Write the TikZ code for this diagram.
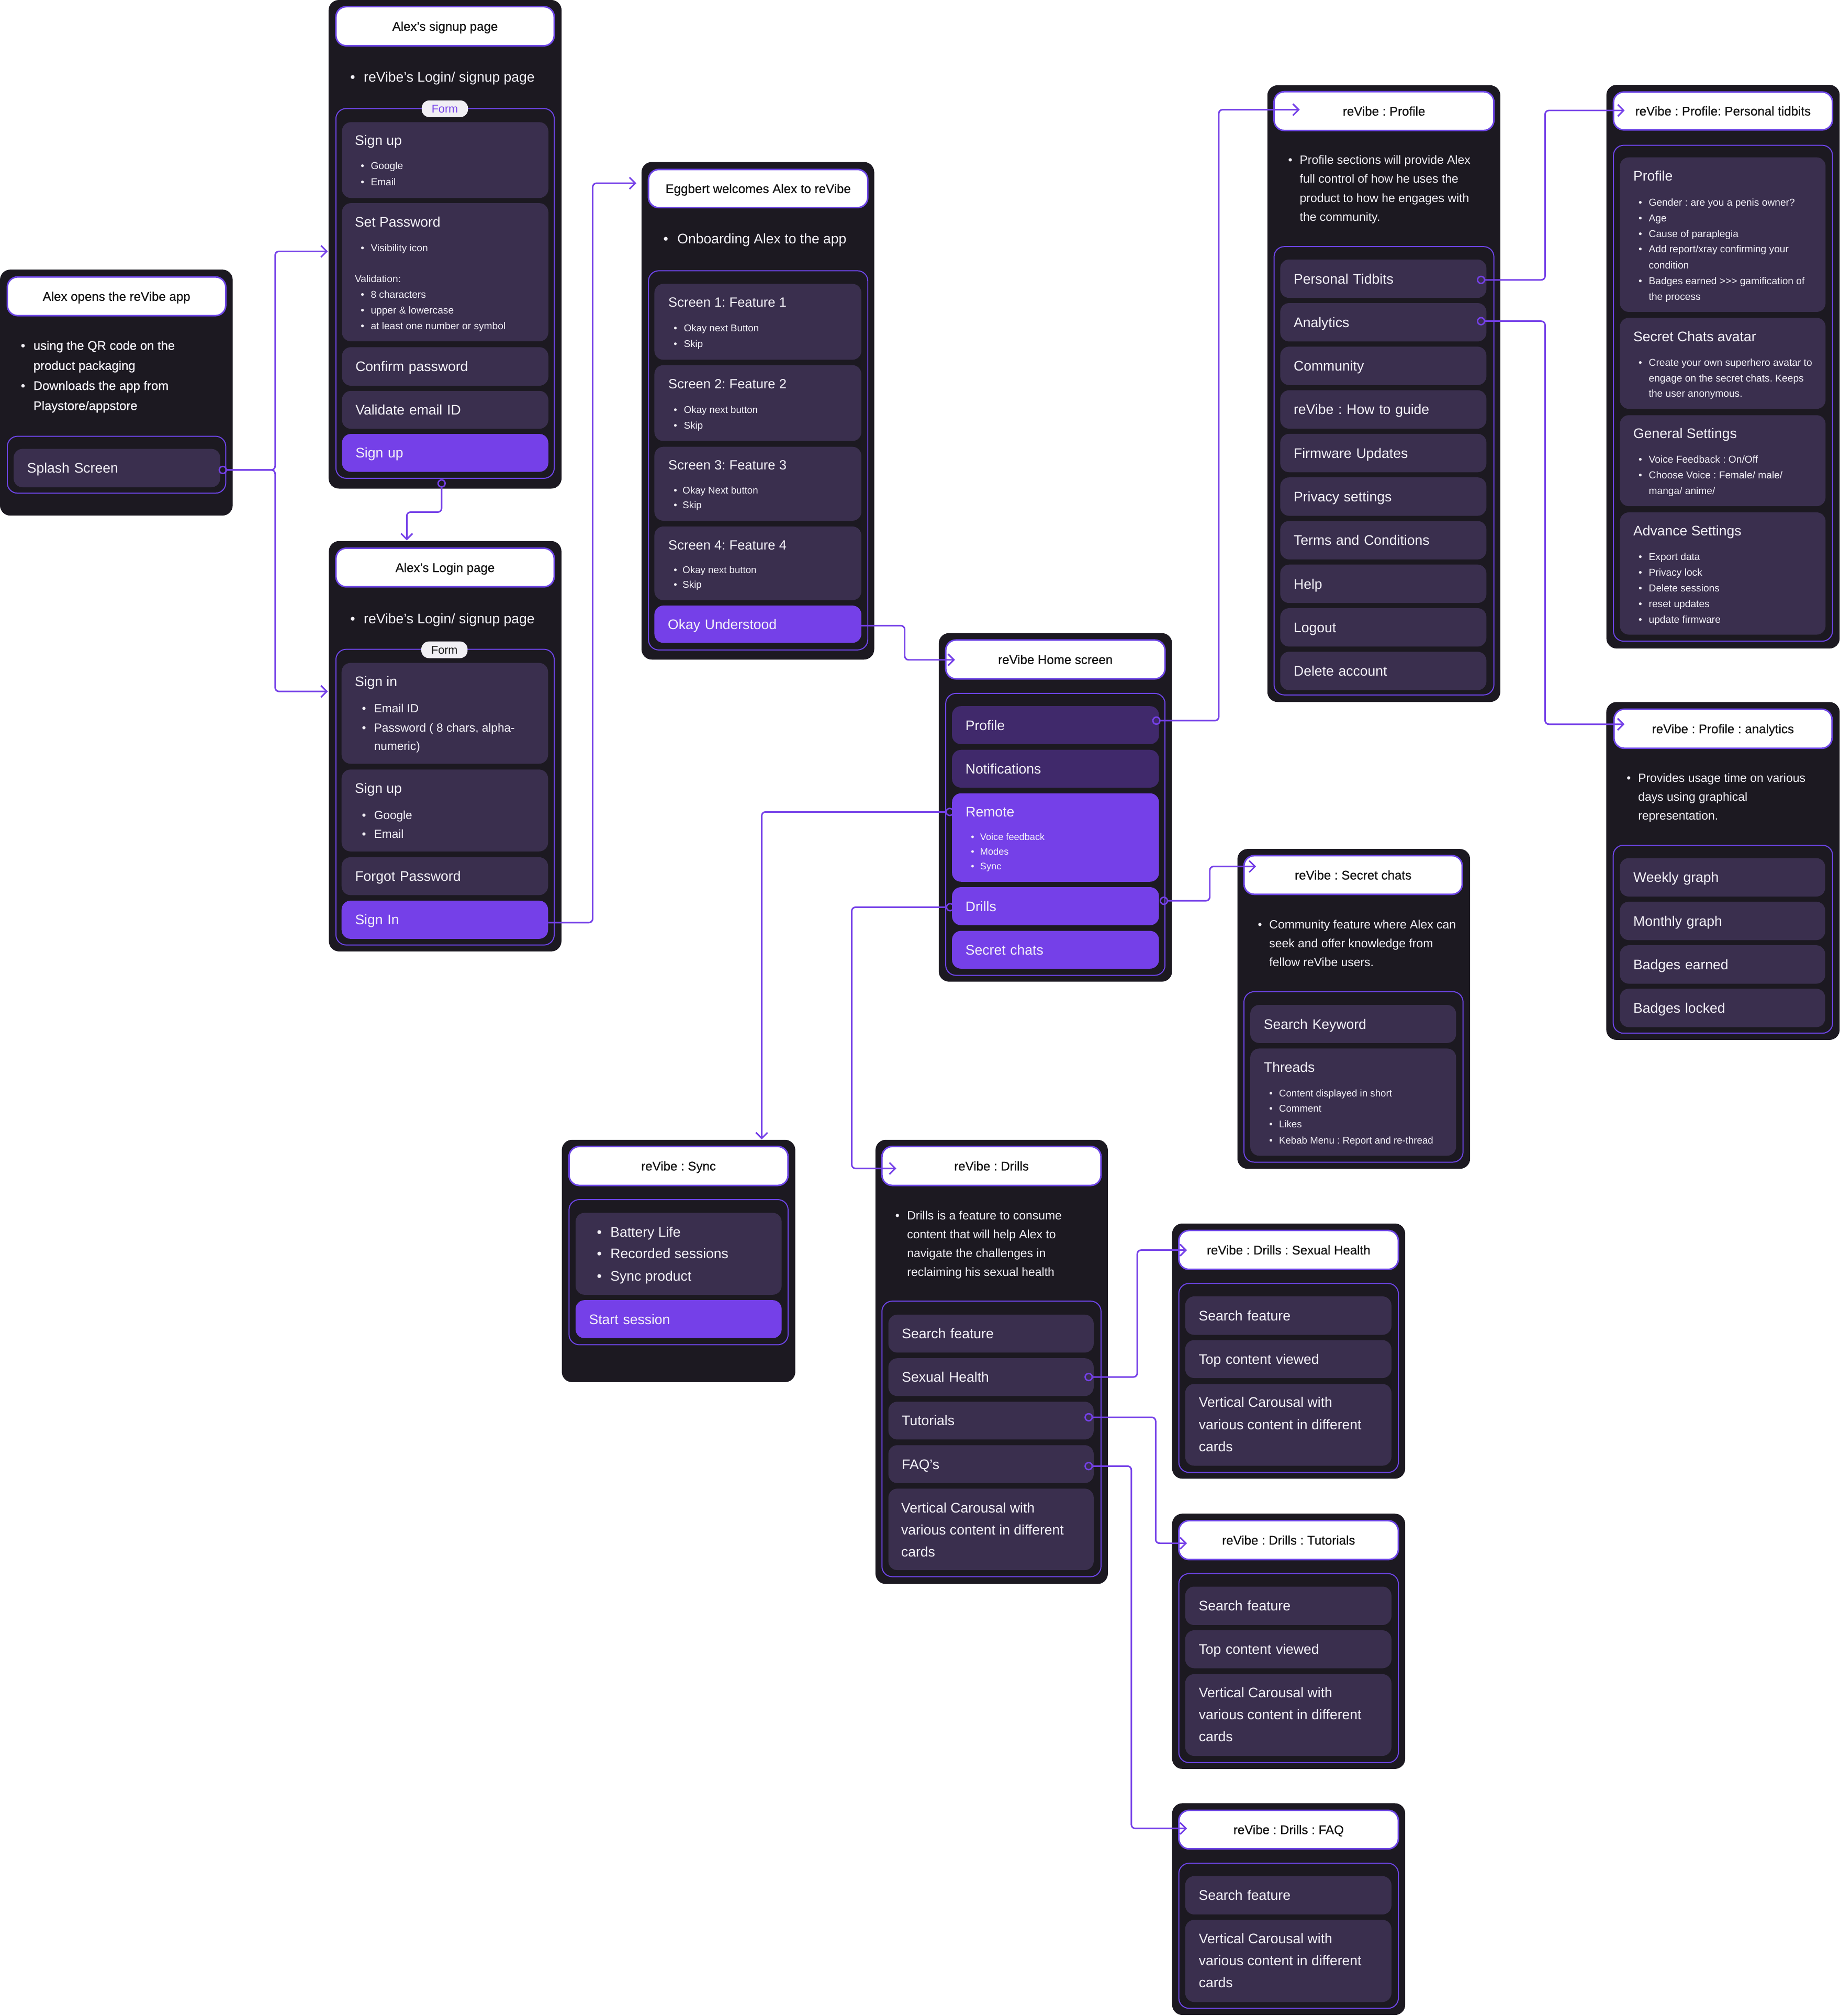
\documentclass[tikz,border=0pt]{standalone}
\usepackage{fontspec}
\setmainfont{Liberation Sans}
\newfontfamily\medfont{Liberation Sans}[FakeBold=0.6]
\usetikzlibrary{arrows.meta}
\definecolor{outerc}{HTML}{1C1921}
\definecolor{cardc}{HTML}{3A2F4E}
\definecolor{midp}{HTML}{40296B}
\definecolor{brightp}{HTML}{7540E8}
\definecolor{framec}{HTML}{6D45E6}
\definecolor{linec}{HTML}{7540E8}
\definecolor{txtw}{HTML}{F4F2F8}
\definecolor{ttlc}{HTML}{141414}
\definecolor{pillc}{HTML}{F1EFF4}
\frenchspacing
\newcommand\rbox[6]{%
  \pgfmathsetmacro\myw{#5-#3}\pgfmathsetmacro\myh{#6-#4}%
  \node[#1,anchor=north west,minimum width=\myw pt,minimum height=\myh pt,inner sep=0pt,outer sep=0pt] (#2) at (#3,#4) {};}
\newcommand\rcard[7]{%
  \pgfmathsetmacro\myw{#5-#3}\pgfmathsetmacro\myh{#6-#4}\pgfmathsetmacro\mytw{#5-#3-21}%
  \node[#1,s108,anchor=north west,minimum width=\myw pt,minimum height=\myh pt,text width=\mytw pt,inner xsep=10.5pt,inner ysep=0pt,outer sep=0pt,align=left,text=txtw,text depth=0pt] (#2) at (#3,#4) {\frenchspacing #7};}
\newcommand\rtitle[6]{%
  \pgfmathsetmacro\myw{#4-#2}\pgfmathsetmacro\myh{#5-#3}%
  \node[titlebox,anchor=north west,minimum width=\myw pt,minimum height=\myh pt] (#1) at (#2,#3) {\frenchspacing #6};}
\newcommand\tl[4]{\node[txtl,#1] at (#2,#3) {\frenchspacing #4};}
\newcommand\bl[5]{\node[txtl,#1] at (#2,#4) {•};\node[txtl,#1] at (#3,#4) {\frenchspacing #5};}
\begin{document}
\begin{tikzpicture}[x=1pt,y=-1pt,
  outerbox/.style={fill=outerc, rounded corners=8pt, draw=none},
  framebox/.style={draw=framec, line width=0.8pt, rounded corners=8pt},
  cardbox/.style={fill=cardc, rounded corners=7pt},
  midcard/.style={fill=midp, rounded corners=7pt},
  brightcard/.style={fill=brightp, rounded corners=7pt},
  titlebox/.style={fill=white, draw=framec, line width=1.2pt, rounded corners=8pt, text=ttlc, font=\medfont\fontsize{9.8}{12}\selectfont, text height=7.05pt, text depth=0pt, inner sep=0pt, outer sep=0pt},
  txtl/.style={anchor=west, inner sep=0pt, outer sep=0pt, text=txtw, text depth=0pt},
  s108/.style={font=\fontsize{10.8}{13}\selectfont, text height=7.8pt},
  s104/.style={font=\fontsize{10.4}{12.5}\selectfont, text height=7.5pt},
  s97m/.style={font=\medfont\fontsize{9.7}{12}\selectfont, text height=7pt},
  s93/.style={font=\fontsize{9.33}{11}\selectfont, text height=6.7pt},
  s92/.style={font=\fontsize{9.2}{11}\selectfont, text height=6.6pt},
  s78/.style={font=\fontsize{7.8}{9.5}\selectfont, text height=5.6pt},
  s76/.style={font=\fontsize{7.6}{9.2}\selectfont, text height=5.5pt},
  s74/.style={font=\fontsize{7.4}{9}\selectfont, text height=5.3pt},
  pill/.style={fill=pillc, rounded corners=6pt, minimum width=36pt, minimum height=13pt, inner sep=0pt, font=\fontsize{8.8}{10}\selectfont, text height=6.3pt, text depth=0pt},
  port/.style={circle, draw=linec, line width=1.1pt, minimum size=5.5pt, inner sep=0pt},
  conn/.style={draw=linec, line width=1.2pt, rounded corners=3pt, -{Straight Barb[length=4.5pt,width=9pt]}}
]
\useasboundingbox (0,0) rectangle (1431,1568);
\fill[white] (0,0) rectangle (1431,1568);

% ---------- A: Alex opens the app
\rbox{outerbox}{A}{0}{209.7}{181}{401}
\rtitle{At}{5.7}{215.4}{175.6}{245.5}{Alex opens the reVibe app}
\bl{s97m}{16.2}{26}{268.6}{using the QR code on the}
\tl{s97m}{26}{284.2}{product packaging}
\bl{s97m}{16.2}{26}{299.8}{Downloads the app from}
\tl{s97m}{26}{315.4}{Playstore/appstore}
\rbox{framebox}{Af}{5.7}{339.3}{175.6}{383.6}
\rcard{cardbox}{splash}{10.6}{349.1}{171.3}{379}{Splash Screen}

% ---------- B: signup page
\rbox{outerbox}{B}{255.6}{0}{436.8}{380}
\rtitle{Bt}{261.3}{5.2}{431.1}{35.6}{Alex’s signup page}
\bl{s108}{272.5}{283}{59.7}{reVibe’s Login/ signup page}
\rbox{framebox}{Bf}{261.3}{84.4}{431.1}{372}
\node[pill,text=brightp] (Bp) at (346,84.6) {Form};
\rbox{cardbox}{Bc1}{266}{95}{426.5}{154}
\tl{s108}{276}{109}{Sign up}
\bl{s78}{280.6}{288.4}{129}{Google}
\bl{s78}{280.6}{288.4}{141.5}{Email}
\rbox{cardbox}{Bc2}{266}{158}{426.5}{265.5}
\tl{s108}{276}{172.6}{Set Password}
\bl{s78}{280.6}{288.4}{192.6}{Visibility icon}
\tl{s78}{276}{217}{Validation:}
\bl{s78}{280.6}{288.4}{229}{8 characters}
\bl{s78}{280.6}{288.4}{241.4}{upper \& lowercase}
\bl{s78}{280.6}{288.4}{253.6}{at least one number or symbol}
\rcard{cardbox}{Bc3}{266}{270}{426.5}{300}{Confirm password}
\rcard{cardbox}{Bc4}{266}{304}{426.5}{333.5}{Validate email ID}
\rcard{brightcard}{Bc5}{266}{337.5}{426.5}{367}{Sign up}

% ---------- C: login page
\rbox{outerbox}{C}{255.8}{420.8}{436.7}{740}
\rtitle{Ct}{261.3}{426.4}{431.1}{456.4}{Alex’s Login page}
\bl{s108}{272.5}{283}{481}{reVibe’s Login/ signup page}
\rbox{framebox}{Cf}{261.3}{505}{431.1}{735}
\node[pill,text=ttlc] (Cp) at (345.7,505.4) {Form};
\rbox{cardbox}{Cc1}{265.7}{515.6}{426.3}{594}
\tl{s108}{276}{530}{Sign in}
\bl{s92}{281.5}{291}{551}{Email ID}
\bl{s92}{281.5}{291}{565.8}{Password ( 8 chars, alpha-}
\tl{s92}{291}{580.4}{numeric)}
\rbox{cardbox}{Cc2}{265.7}{598.5}{426.3}{662.2}
\tl{s108}{276}{613}{Sign up}
\bl{s92}{281.5}{291}{634}{Google}
\bl{s92}{281.5}{291}{648.8}{Email}
\rcard{cardbox}{Cc3}{265.7}{666.7}{426.3}{696.2}{Forgot Password}
\rcard{brightcard}{Cc4}{265.7}{700.5}{426.3}{730.2}{Sign In}

% ---------- D: onboarding
\rbox{outerbox}{D}{499}{126}{680}{513}
\rtitle{Dt}{504.4}{131.8}{675}{161.5}{Eggbert welcomes Alex to reVibe}
\bl{s108}{516}{526.9}{185.6}{Onboarding Alex to the app}
\rbox{framebox}{Df}{504.4}{210.6}{675}{505.5}
\rbox{cardbox}{Dc1}{509}{220.8}{670}{279.8}
\tl{s104}{519.9}{235}{Screen 1: Feature 1}
\bl{s76}{524}{532}{255.2}{Okay next Button}
\bl{s76}{524}{532}{267.4}{Skip}
\rbox{cardbox}{Dc2}{509}{284}{670}{343}
\tl{s104}{519.9}{298.3}{Screen 2: Feature 2}
\bl{s76}{524}{532}{318.5}{Okay next button}
\bl{s76}{524}{532}{330.7}{Skip}
\rbox{cardbox}{Dc3}{509}{347.5}{670}{405}
\tl{s104}{519.9}{361.7}{Screen 3: Feature 3}
\bl{s76}{524}{531}{381.3}{Okay Next button}
\bl{s76}{524}{531}{392.8}{Skip}
\rbox{cardbox}{Dc4}{509}{409.5}{670}{466.8}
\tl{s104}{519.9}{423.7}{Screen 4: Feature 4}
\bl{s76}{524}{531}{443}{Okay next button}
\bl{s76}{524}{531}{454.6}{Skip}
\rcard{brightcard}{Dc5}{509}{471}{670}{500}{Okay Understood}

% ---------- E: home
\rbox{outerbox}{E}{730.2}{492.4}{911.7}{763.5}
\rtitle{Et}{735.6}{497.8}{906.2}{528}{reVibe Home screen}
\rbox{framebox}{Ef}{735.6}{539.3}{906.2}{758.6}
\rcard{midcard}{Ec1}{740.5}{549.2}{901.5}{578.8}{Profile}
\rcard{midcard}{Ec2}{740.5}{583.2}{901.5}{612.6}{Notifications}
\rbox{brightcard}{Ec3}{740.5}{617}{901.5}{685.8}
\tl{s108}{751.2}{631.3}{Remote}
\bl{s74}{755.2}{762.4}{650.7}{Voice feedback}
\bl{s74}{755.2}{762.4}{662.3}{Modes}
\bl{s74}{755.2}{762.4}{673.6}{Sync}
\rcard{brightcard}{Ec4}{740.5}{690}{901.5}{719.6}{Drills}
\rcard{brightcard}{Ec5}{740.5}{724}{901.5}{753.4}{Secret chats}

% ---------- F: profile
\rbox{outerbox}{F}{985.8}{66.3}{1167}{546}
\rtitle{Ft}{991}{71.3}{1162}{101.5}{reVibe : Profile}
\bl{s93}{1002}{1011}{124.3}{Profile sections will provide Alex}
\tl{s93}{1011}{138.9}{full control of how he uses the}
\tl{s93}{1011}{153.8}{product to how he engages with}
\tl{s93}{1011}{168.5}{the community.}
\rbox{framebox}{Ff}{991}{191.8}{1162}{540.5}
\foreach \i/\t in {0/Personal Tidbits,1/Analytics,2/Community,3/reVibe : How to guide,4/Firmware Updates,5/Privacy settings,6/Terms and Conditions,7/Help,8/Logout,9/Delete account}{
  \pgfmathsetmacro\ytop{201.8+33.9*\i}\pgfmathsetmacro\ybot{\ytop+29.9}
  \rcard{cardbox}{Fc\i}{995.8}{\ytop}{1156.2}{\ybot}{\t}
}

% ---------- G: personal tidbits
\rbox{outerbox}{G}{1249.5}{66}{1431}{504.4}
\rtitle{Gt}{1255}{71.6}{1425.4}{101}{reVibe : Profile: Personal tidbits}
\rbox{framebox}{Gf}{1255}{113}{1425.4}{498.7}
\rbox{cardbox}{Gc1}{1260}{122.4}{1420}{242.6}
\tl{s108}{1270.5}{136.8}{Profile}
\bl{s78}{1274.5}{1282.5}{157.3}{Gender : are you a penis owner?}
\bl{s78}{1274.5}{1282.5}{169.5}{Age}
\bl{s78}{1274.5}{1282.5}{181.8}{Cause of paraplegia}
\bl{s78}{1274.5}{1282.5}{193.8}{Add report/xray confirming your}
\tl{s78}{1282.5}{206.1}{condition}
\bl{s78}{1274.5}{1282.5}{218.4}{Badges earned {>}{>}{>} gamification of}
\tl{s78}{1282.5}{230.6}{the process}
\rbox{cardbox}{Gc2}{1260}{247.2}{1420}{318}
\tl{s108}{1270.5}{261.7}{Secret Chats avatar}
\bl{s78}{1274.5}{1282.5}{281.8}{Create your own superhero avatar to}
\tl{s78}{1282.5}{294}{engage on the secret chats. Keeps}
\tl{s78}{1282.5}{306}{the user anonymous.}
\rbox{cardbox}{Gc3}{1260}{322.9}{1420}{393.7}
\tl{s108}{1270.5}{337.2}{General Settings}
\bl{s78}{1274.5}{1282.5}{357.4}{Voice Feedback : On/Off}
\bl{s78}{1274.5}{1282.5}{369.4}{Choose Voice : Female/ male/}
\tl{s78}{1282.5}{381.7}{manga/ anime/}
\rbox{cardbox}{Gc4}{1260}{398.5}{1420}{493.6}
\tl{s108}{1270.5}{412.8}{Advance Settings}
\bl{s78}{1274.5}{1282.5}{432.8}{Export data}
\bl{s78}{1274.5}{1282.5}{445}{Privacy lock}
\bl{s78}{1274.5}{1282.5}{457.3}{Delete sessions}
\bl{s78}{1274.5}{1282.5}{469.6}{reset updates}
\bl{s78}{1274.5}{1282.5}{481.6}{update firmware}

% ---------- H: analytics
\rbox{outerbox}{H}{1249.4}{546}{1431}{808.8}
\rtitle{Ht}{1255.4}{551.6}{1425}{582}{reVibe : Profile : analytics}
\bl{s93}{1265.3}{1274.2}{605}{Provides usage time on various}
\tl{s93}{1274.2}{619.7}{days using graphical}
\tl{s93}{1274.2}{634.2}{representation.}
\rbox{framebox}{Hf}{1254.8}{657.4}{1425.5}{803.6}
\rcard{cardbox}{Hc1}{1260}{667.4}{1419.7}{697.3}{Weekly graph}
\rcard{cardbox}{Hc2}{1260}{701.3}{1419.7}{731.2}{Monthly graph}
\rcard{cardbox}{Hc3}{1260}{735.2}{1419.7}{765.1}{Badges earned}
\rcard{cardbox}{Hc4}{1260}{769}{1419.7}{798.9}{Badges locked}

% ---------- I: secret chats
\rbox{outerbox}{I}{962.5}{660.3}{1143.5}{909.1}
\rtitle{It}{967.6}{665.5}{1137.4}{695.6}{reVibe : Secret chats}
\bl{s93}{978.4}{987.3}{719}{Community feature where Alex can}
\tl{s93}{987.3}{733.6}{seek and offer knowledge from}
\tl{s93}{987.3}{748.2}{fellow reVibe users.}
\rbox{framebox}{If}{967.6}{771.3}{1138}{903.9}
\rcard{cardbox}{Ic1}{972.5}{781.6}{1132.6}{811.2}{Search Keyword}
\rbox{cardbox}{Ic2}{972.5}{815.5}{1132.6}{898.9}
\tl{s108}{983.1}{829.9}{Threads}
\bl{s76}{987.3}{994.9}{850.2}{Content displayed in short}
\bl{s76}{987.3}{994.9}{862.1}{Comment}
\bl{s76}{987.3}{994.9}{874.3}{Likes}
\bl{s76}{987.3}{994.9}{886.7}{Kebab Menu : Report and re-thread}

% ---------- J: sync
\rbox{outerbox}{J}{437}{886.5}{618.6}{1075}
\rtitle{Jt}{442.6}{891.7}{613}{922}{reVibe : Sync}
\rbox{framebox}{Jf}{442.6}{933}{613}{1045.9}
\rbox{cardbox}{Jc1}{447.7}{943.3}{608}{1007}
\bl{s108}{464.3}{474.8}{958}{Battery Life}
\bl{s108}{464.3}{474.8}{975}{Recorded sessions}
\bl{s108}{464.3}{474.8}{992.2}{Sync product}
\rcard{brightcard}{Jc2}{447.7}{1011.2}{608}{1040.8}{Start session}

% ---------- K: drills
\rbox{outerbox}{K}{681}{886.5}{861.7}{1232}
\rtitle{Kt}{686}{891.7}{856.4}{922}{reVibe : Drills}
\bl{s93}{696.4}{705.6}{945.3}{Drills is a feature to consume}
\tl{s93}{705.6}{960}{content that will help Alex to}
\tl{s93}{705.6}{974.6}{navigate the challenges in}
\tl{s93}{705.6}{989.2}{reclaiming his sexual health}
\rbox{framebox}{Kf}{686}{1012}{856.4}{1226.3}
\rcard{cardbox}{Kc1}{691}{1022.5}{850.7}{1052}{Search feature}
\rcard{cardbox}{Kc2}{691}{1056.4}{850.7}{1085.8}{Sexual Health}
\rcard{cardbox}{Kc3}{691}{1090.2}{850.7}{1119.6}{Tutorials}
\rcard{cardbox}{Kc4}{691}{1124}{850.7}{1153.5}{FAQ’s}
\rbox{cardbox}{Kc5}{691}{1157.8}{850.7}{1221.2}
\tl{s108}{701}{1172.6}{Vertical Carousal with}
\tl{s108}{701}{1189.7}{various content in different}
\tl{s108}{701}{1206.9}{cards}

% ---------- L: drills sexual health
\rbox{outerbox}{L}{911.7}{951.6}{1093}{1150.1}
\rtitle{Lt}{916.9}{957}{1087.7}{987.3}{reVibe : Drills : Sexual Health}
\rbox{framebox}{Lf}{916.9}{998.2}{1087.7}{1145.2}
\rcard{cardbox}{Lc1}{921.9}{1008.3}{1082.3}{1038.2}{Search feature}
\rcard{cardbox}{Lc2}{921.9}{1042.3}{1082.3}{1071.8}{Top content viewed}
\rbox{cardbox}{Lc3}{921.9}{1076.4}{1082.3}{1140}
\tl{s108}{932.5}{1090.6}{Vertical Carousal with}
\tl{s108}{932.5}{1107.8}{various content in different}
\tl{s108}{932.5}{1125}{cards}

% ---------- M: drills tutorials
\rbox{outerbox}{M}{911.7}{1177.3}{1093}{1375.8}
\rtitle{Mt}{916.9}{1182.7}{1087.7}{1213}{reVibe : Drills : Tutorials}
\rbox{framebox}{Mf}{916.9}{1223.9}{1087.7}{1370.9}
\rcard{cardbox}{Mc1}{921.9}{1234}{1082.3}{1263.9}{Search feature}
\rcard{cardbox}{Mc2}{921.9}{1268}{1082.3}{1297.5}{Top content viewed}
\rbox{cardbox}{Mc3}{921.9}{1302.1}{1082.3}{1365.7}
\tl{s108}{932.5}{1316.3}{Vertical Carousal with}
\tl{s108}{932.5}{1333.5}{various content in different}
\tl{s108}{932.5}{1350.7}{cards}

% ---------- N: drills FAQ
\rbox{outerbox}{N}{911.7}{1402.5}{1093}{1567.2}
\rtitle{Nt}{916.9}{1408}{1087.7}{1438}{reVibe : Drills : FAQ}
\rbox{framebox}{Nf}{916.9}{1449.2}{1087.7}{1562}
\rcard{cardbox}{Nc1}{921.9}{1459.2}{1082.3}{1489}{Search feature}
\rbox{cardbox}{Nc2}{921.9}{1493.2}{1082.3}{1557.1}
\tl{s108}{932.5}{1507.7}{Vertical Carousal with}
\tl{s108}{932.5}{1524.9}{various content in different}
\tl{s108}{932.5}{1541.8}{cards}

% ---------- ports
\node[port] (pSplash) at (173.3,365.5) {};
\node[port] (pSignup) at (343.5,376) {};
\node[port] (pHProf) at (899.5,560.5) {};
\node[port] (pHRem) at (738.7,631.5) {};
\node[port] (pHDrL) at (739,705.6) {};
\node[port] (pHDrR) at (905.3,700.6) {};
\node[port] (pPT) at (1152,217.7) {};
\node[port] (pAn) at (1152,249.8) {};
\node[port] (pSH) at (846.8,1071) {};
\node[port] (pTut) at (846.8,1102.3) {};
\node[port] (pFAQ) at (846.8,1140.3) {};

% ---------- arrow targets and free starts
\coordinate (aSU) at (255,195.5);
\coordinate (aLI) at (255,537.8);
\coordinate (aLT) at (316.4,420.3);
\coordinate (aEG) at (495,142.5);
\coordinate (aHM) at (742.8,513.2);
\coordinate (aPF) at (1011,85.3);
\coordinate (aPT) at (1263.7,85.9);
\coordinate (aAN) at (1263.6,563.3);
\coordinate (aSC) at (977,673.9);
\coordinate (aSY) at (592.5,886.2);
\coordinate (aDR) at (697.2,908.8);
\coordinate (aSH) at (923.3,972.3);
\coordinate (aTU) at (923.3,1200.3);
\coordinate (aFQ) at (923.3,1422.1);
\coordinate (sSI) at (426.3,717.6);
\coordinate (sOK) at (670,486.6);

% ---------- connectors
\draw[conn] (pSplash) -- (214,365.5) |- (aSU);
\draw[conn] (pSplash) -- (214,365.5) |- (aLI);
\draw[conn] (pSignup) -- (343.5,398.3) -| (aLT);
\draw[conn] (sSI) -- (461,717.6) |- (aEG);
\draw[conn] (sOK) -- (703.7,486.6) |- (aHM);
\draw[conn] (pHProf) -- (948,560.5) |- (aPF);
\draw[conn] (pHRem) -| (aSY);
\draw[conn] (pHDrL) -- (662.5,705.6) |- (aDR);
\draw[conn] (pHDrR) -- (941,700.6) |- (aSC);
\draw[conn] (pPT) -- (1201.8,217.7) |- (aPT);
\draw[conn] (pAn) -- (1201.8,249.8) |- (aAN);
\draw[conn] (pSH) -- (884.6,1071) |- (aSH);
\draw[conn] (pTut) -- (898.9,1102.3) |- (aTU);
\draw[conn] (pFAQ) -- (880,1140.3) |- (aFQ);
\end{tikzpicture}
\end{document}
